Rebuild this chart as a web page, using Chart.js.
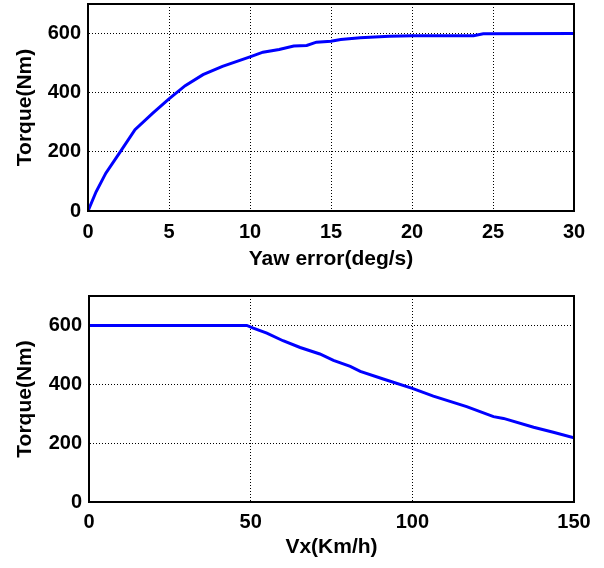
<!DOCTYPE html>
<html>
<head>
<meta charset="utf-8">
<title>Torque limits</title>
<script src="https://cdn.jsdelivr.net/npm/chart.js@4/dist/chart.umd.min.js"></script>
<style>
  body { margin: 0; background: #fff; }
  .panel { position: absolute; left: 0; width: 604px; height: 284px; }
  #topPanel { top: 0; }
  #bottomPanel { top: 284px; }
</style>
</head>
<body>
<div class="panel" id="topPanel"><canvas id="yawChart" width="604" height="284"></canvas></div>
<div class="panel" id="bottomPanel"><canvas id="vxChart" width="604" height="284"></canvas></div>
<script>
  // Data
  const yawError = [0, 0.5, 1.1, 2, 2.9, 4, 5, 6, 7.1, 8.3, 10, 10.8, 11.8, 12.7, 13.5, 14.1, 15, 15.6, 16.8, 18.6, 20, 23.8, 24.4, 30];
  const yawTorque = [0, 65, 128, 201, 275, 331, 379, 424, 461, 489, 521, 537, 546, 558, 560, 571, 574, 580, 586, 591, 593, 593, 599, 600];

  const vxSpeed = [0, 48.8, 50.8, 55, 60, 65.3, 71.4, 75.6, 80.8, 83.9, 91, 100, 106.5, 116.8, 125.1, 128.2, 137.5, 143.6, 150];
  const vxTorque = [600, 600, 591, 574, 548, 525, 503, 481, 461, 444, 418, 386, 360, 324, 290, 284, 254, 237, 218];

  // Tick labels
  const yawTicks = [0, 5, 10, 15, 20, 25, 30];
  const vxTicks = [0, 50, 100, 150];
  const torqueTicks = [0, 200, 400, 600];

  const FONT = "'Liberation Sans', Arial, sans-serif";

  // Box around the plot area (MATLAB style)
  const boxPlugin = {
    id: "box",
    afterDraw(chart) {
      const { ctx, chartArea: a } = chart;
      ctx.save();
      ctx.strokeStyle = "#000";
      ctx.lineWidth = 2;
      ctx.strokeRect(a.left, a.top, a.right - a.left, a.bottom - a.top);
      ctx.restore();
    }
  };

  function makeChart(id, xs, ys, xTicks, xTitle, opt) {
    const points = xs.map((x, i) => ({ x: x, y: ys[i] }));
    return new Chart(document.getElementById(id), {
      type: "line",
      data: {
        datasets: [{
          data: points,
          borderColor: "#0000ff",
          borderWidth: 3,
          pointRadius: 0,
          tension: 0,
          fill: false
        }]
      },
      options: {
        responsive: false,
        animation: false,
        layout: { padding: { top: opt.top, right: 30, left: 0, bottom: 0 } },
        plugins: { legend: { display: false }, tooltip: { enabled: false } },
        scales: {
          x: {
            type: "linear",
            min: xTicks[0],
            max: xTicks[xTicks.length - 1],
            afterBuildTicks: axis => { axis.ticks = xTicks.map(v => ({ value: v })); },
            afterFit: axis => { axis.height = opt.xHeight; },
            grid: { color: "#000", lineWidth: 1, drawTicks: false },
            border: { color: "#000", width: 2, dash: [1, 2] },
            ticks: { color: "#000", padding: opt.tickPad, font: { family: FONT, size: 20, weight: "bold" } },
            title: {
              display: true,
              text: xTitle,
              color: "#000",
              padding: { top: 0, bottom: opt.titlePad },
              font: { family: FONT, size: 21, weight: "bold" }
            }
          },
          y: {
            min: 0,
            max: 700,
            afterBuildTicks: axis => { axis.ticks = torqueTicks.map(v => ({ value: v })); },
            afterFit: axis => {
              axis.width = opt.yWidth;
              // no extra room for labels above the plot
              axis.paddingTop = 0;
              axis.paddingBottom = 0;
            },
            grid: { color: "#000", lineWidth: 1, drawTicks: false },
            border: { color: "#000", width: 2, dash: [1, 2] },
            ticks: { color: "#000", padding: 7, font: { family: FONT, size: 20, weight: "bold" } },
            title: {
              display: true,
              text: "Torque(Nm)",
              color: "#000",
              padding: { top: 13, bottom: 0 },
              font: { family: FONT, size: 21, weight: "bold" }
            }
          }
        }
      },
      plugins: [boxPlugin]
    });
  }

  makeChart("yawChart", yawError, yawTorque, yawTicks, "Yaw error(deg/s)",
    { top: 4, xHeight: 73, yWidth: 88, tickPad: 9, titlePad: 12 });
  makeChart("vxChart", vxSpeed, vxTorque, vxTicks, "Vx(Km/h)",
    { top: 12, xHeight: 66, yWidth: 89, tickPad: 8, titlePad: 8 });
</script>
</body>
</html>
